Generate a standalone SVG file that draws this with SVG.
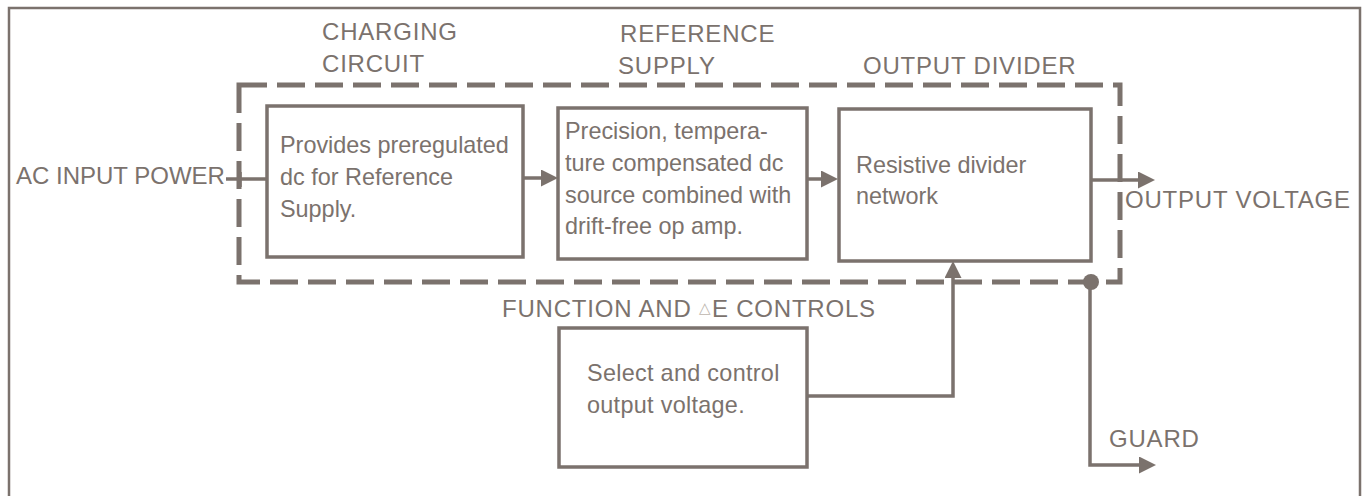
<svg xmlns="http://www.w3.org/2000/svg" width="1369" height="496" viewBox="0 0 1369 496">
  <style>
    .ink { fill: none; stroke: #7b726d; }
    .frame { stroke-width: 2.5; }
    .box { fill: #ffffff; stroke: #7b726d; stroke-width: 3.5; }
    .dash { fill: none; stroke: #7b726d; stroke-width: 5; stroke-dasharray: 28 10; }
    .wire { fill: none; stroke: #7b726d; stroke-width: 3.5; }
    text { font-family: "Liberation Sans", Arial, sans-serif; fill: #7b726d; }
    .lbl { font-size: 24px; letter-spacing: 0.8px; }
    .body { font-size: 23.4px; }
  </style>
  <defs>
    <marker id="arrow" viewBox="0 0 17 17" refX="6" refY="8.5" markerUnits="userSpaceOnUse" markerWidth="17" markerHeight="17" orient="auto">
      <path d="M0,0 L17,8.5 L0,17 Z" fill="#7b726d"/>
    </marker>
  </defs>

  <rect width="1369" height="496" fill="#ffffff"/>

  <!-- outer frame, open at the bottom -->
  <path class="ink frame" d="M9,496 V8 H1360 V496"/>

  <!-- dashed enclosure around the main chain -->
  <rect id="enclosure" class="dash" x="239" y="85" width="881" height="197"/>

  <!-- block headings -->
  <g id="headings" class="lbl">
    <text x="322" y="40">CHARGING</text>
    <text x="322" y="72">CIRCUIT</text>
    <text x="620" y="42">REFERENCE</text>
    <text x="618" y="74">SUPPLY</text>
    <text x="863" y="74">OUTPUT DIVIDER</text>
    <text x="502" y="317">FUNCTION AND <tspan font-size="15" fill="#bdb5ae" dy="-4">△</tspan><tspan dy="4">E CONTROLS</tspan></text>
  </g>

  <g id="charging-circuit">
    <rect class="box" x="267" y="106" width="256" height="151"/>
    <text class="body" x="280" y="153">Provides preregulated</text>
    <text class="body" x="280" y="185">dc for Reference</text>
    <text class="body" x="280" y="217">Supply.</text>
  </g>

  <g id="reference-supply">
    <rect class="box" x="558" y="108" width="249" height="151"/>
    <text class="body" x="565" y="139">Precision, tempera-</text>
    <text class="body" x="565" y="171">ture compensated dc</text>
    <text class="body" x="565" y="203">source combined with</text>
    <text class="body" x="565" y="234">drift-free op amp.</text>
  </g>

  <g id="output-divider">
    <rect class="box" x="839" y="109" width="252" height="152"/>
    <text class="body" x="856" y="173">Resistive divider</text>
    <text class="body" x="856" y="204">network</text>
  </g>

  <g id="function-controls">
    <rect class="box" x="559" y="328" width="248" height="139"/>
    <text class="body" x="587" y="381" letter-spacing="0.3">Select and control</text>
    <text class="body" x="587" y="413" letter-spacing="0.3">output voltage.</text>
  </g>

  <g id="terminals" class="lbl">
    <text x="16" y="184" letter-spacing="0">AC INPUT POWER</text>
    <text x="1125" y="208">OUTPUT VOLTAGE</text>
    <text x="1109" y="447">GUARD</text>
  </g>

  <g id="connectors">
    <!-- AC input into the charging circuit, with a tick where it crosses the enclosure -->
    <line class="wire" x1="226" y1="179" x2="267" y2="179"/>
    <line class="wire" x1="240" y1="172" x2="240" y2="187" stroke-width="5"/>
    <!-- chain arrows -->
    <line class="wire" x1="523" y1="178" x2="547" y2="178" marker-end="url(#arrow)"/>
    <line class="wire" x1="807" y1="179" x2="827" y2="179" marker-end="url(#arrow)"/>
    <line class="wire" x1="1091" y1="180" x2="1144" y2="180" marker-end="url(#arrow)"/>
    <!-- control feed up into the divider -->
    <path class="wire" d="M807,396 H953 V272" marker-end="url(#arrow)"/>
    <!-- guard tap off the enclosure -->
    <path class="wire" d="M1090,282 V465 H1145" marker-end="url(#arrow)"/>
    <circle cx="1091" cy="282" r="8" fill="#7b726d"/>
  </g>
</svg>
